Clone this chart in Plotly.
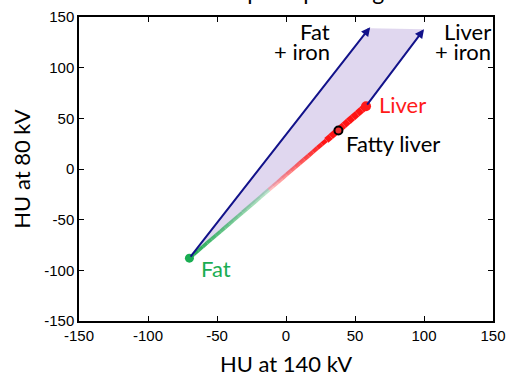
import numpy as np
import plotly.graph_objects as go

# Tissue positions (HU at 140 kV, HU at 80 kV)
fat = (-70, -88)
liver = (58, 62)
fatty_liver = (38, 38)
fat_iron = (61, 140)
liver_iron = (100, 138)

x_ticks = [-150, -100, -50, 0, 50, 100, 150]
y_ticks = [-150, -100, -50, 0, 50, 100, 150]

NAVY = "#12128a"
GREEN = "#1aad52"
RED = "#ff1a1a"

fig = go.Figure()

# Shaded region swept by adding iron
fig.add_trace(go.Scatter(
    x=[fat[0], fat_iron[0], liver_iron[0], liver[0], fat[0]],
    y=[fat[1], fat_iron[1] - 1, liver_iron[1], liver[1], fat[1]],
    fill="toself", fillcolor="rgba(218,208,236,0.85)",
    line=dict(width=0), mode="lines", hoverinfo="skip", showlegend=False,
))

# Fat -> liver mixing line, green at the fat end blending into red
n = 40
t = np.linspace(0, 1, n + 1)
xs = fat[0] + (liver[0] - fat[0]) * t
ys = fat[1] + (liver[1] - fat[1]) * t
g = np.array([30, 170, 80])
r = np.array([255, 20, 20])
for i in range(n):
    s = (t[i] + t[i + 1]) / 2
    if s < 0.45:
        c = g
        a = 1.0 - 1.6 * s
    else:
        c = r
        a = min(1.0, 0.25 + (s - 0.45) * 2.4)
    w = 3.5 + 3.5 * s if s > 0.78 else 3.5 + 1.0 * s
    fig.add_trace(go.Scatter(
        x=[xs[i], xs[i + 1]], y=[ys[i], ys[i + 1]], mode="lines",
        line=dict(color=f"rgba({c[0]},{c[1]},{c[2]},{a:.2f})", width=w),
        hoverinfo="skip", showlegend=False,
    ))

# Iron arrows
for start, end in [(fat, fat_iron), (liver, liver_iron)]:
    fig.add_annotation(
        x=end[0], y=end[1], ax=start[0], ay=start[1],
        xref="x", yref="y", axref="x", ayref="y",
        showarrow=True, arrowhead=2, arrowsize=0.9, arrowwidth=2,
        arrowcolor=NAVY, text="",
    )

# Tissue markers
fig.add_trace(go.Scatter(
    x=[fat[0]], y=[fat[1]], mode="markers",
    marker=dict(color=GREEN, size=9), showlegend=False,
))
fig.add_trace(go.Scatter(
    x=[liver[0]], y=[liver[1]], mode="markers",
    marker=dict(color=RED, size=10), showlegend=False,
))
fig.add_trace(go.Scatter(
    x=[fatty_liver[0]], y=[fatty_liver[1]], mode="markers",
    marker=dict(color="#f03030", size=8, line=dict(color="black", width=2)),
    showlegend=False,
))

LABEL_FONT = "Lato, Open Sans, sans-serif"
labels = [
    dict(x=fat[0] + 7, y=-98, text="Fat", color=GREEN, xanchor="left"),
    dict(x=liver[0] + 8, y=liver[1] + 2, text="Liver", color=RED, xanchor="left"),
    dict(x=fatty_liver[0] + 4, y=25, text="Fatty liver", color="black", xanchor="left"),
    dict(x=33, y=136, text="Fat", color="black", xanchor="right"),
    dict(x=33, y=116, text="+ iron", color="black", xanchor="right"),
    dict(x=150, y=136, text="Liver", color="black", xanchor="right"),
    dict(x=150, y=116, text="+ iron", color="black", xanchor="right"),
]
for lb in labels:
    fig.add_annotation(
        x=lb["x"], y=lb["y"], xref="x", yref="y", text=lb["text"], showarrow=False,
        xanchor=lb["xanchor"], yanchor="middle",
        font=dict(family=LABEL_FONT, size=22, color=lb["color"]),
    )

# Heading, mostly above the visible page
fig.add_annotation(
    x=0.0, y=1.032, xref="paper", yref="paper", xanchor="left", yanchor="bottom",
    text="Difference of slope depending on the material", showarrow=False,
    font=dict(family=LABEL_FONT, size=23, color="black"),
)

axis_common = dict(
    showgrid=False, zeroline=False, showline=True, linecolor="black", linewidth=1.5,
    mirror="allticks", ticks="inside", ticklen=5, tickwidth=1, tickcolor="black",
    tickfont=dict(family="Liberation Sans, Arial, sans-serif", size=15, color="black"),
    automargin=False,
)
fig.update_xaxes(
    range=[-150, 150], tickvals=x_ticks, ticktext=[str(v) for v in x_ticks],
    title=dict(text="HU at 140 kV", font=dict(family=LABEL_FONT, size=22, color="black"), standoff=14),
    **axis_common,
)
fig.update_yaxes(
    range=[-150, 150], tickvals=y_ticks, ticktext=[str(v) for v in y_ticks],
    title=dict(text="HU at 80 kV", font=dict(family=LABEL_FONT, size=22, color="black"), standoff=8),
    **axis_common,
)

fig.update_layout(
    width=511, height=378,
    margin=dict(l=79, r=18, t=17, b=57),
    plot_bgcolor="white", paper_bgcolor="white",
)

fig.write_html("out.html")
